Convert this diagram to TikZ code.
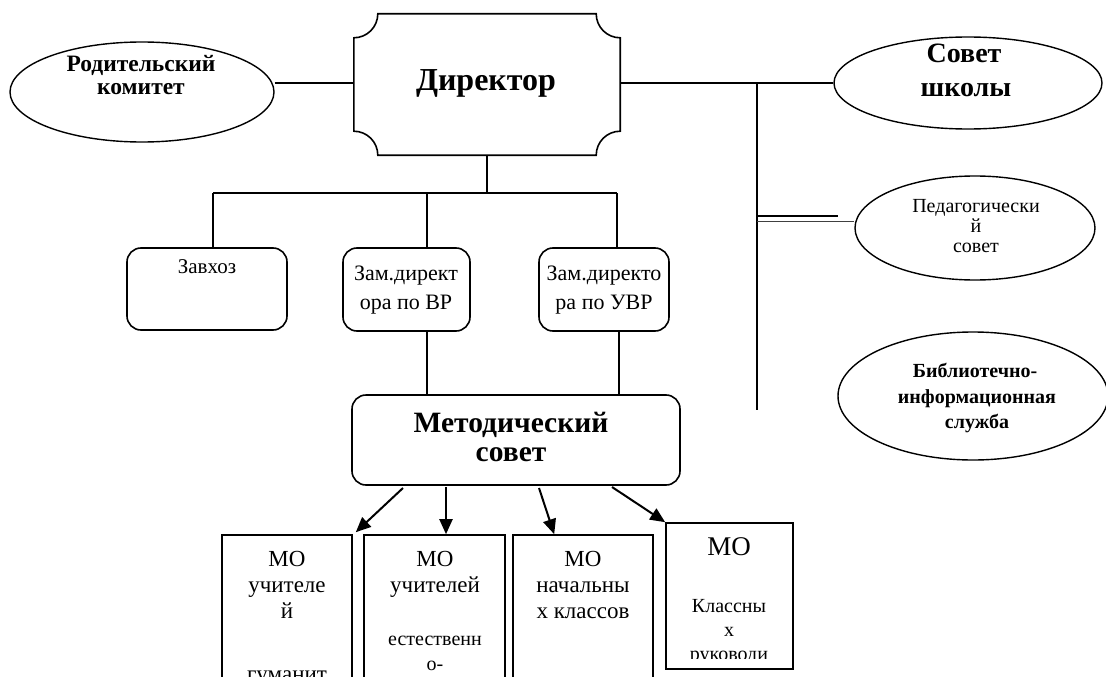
\documentclass[tikz,border=0pt]{standalone}
\usepackage{fontspec}
\setmainfont{Liberation Serif}
\usetikzlibrary{shapes.geometric,arrows.meta,calc}
\begin{document}
\begin{tikzpicture}[x=1pt,y=-1pt,
  ln/.style={line width=1.6pt},
  oval/.style={draw,ellipse,line width=1.4pt,inner sep=0pt},
  rbox/.style={draw,rounded corners=14pt,line width=1.6pt,inner sep=0pt},
  sbox/.style={draw,line width=1.6pt,inner sep=0pt},
  t/.style={anchor=base,inner sep=0pt},
  arr/.style={line width=2pt,-{Triangle[length=15pt,width=13pt]}},
  ]
\useasboundingbox (0,0) rectangle (1106,677);
\clip (0,0) rectangle (1106,677);

% ---------- Director ----------
\node[minimum width=266pt,minimum height=141pt,inner sep=0pt] (dir) at (487,84.5) {};
\draw[ln] ($(dir.north west)+(24,0)$) -- ($(dir.north east)+(-24,0)$)
  .. controls +(0,13.25) and +(-13.25,0) .. ($(dir.north east)+(0,24)$)
  -- ($(dir.south east)+(0,-24)$)
  .. controls +(-13.25,0) and +(0,-13.25) .. ($(dir.south east)+(-24,0)$)
  -- ($(dir.south west)+(24,0)$)
  .. controls +(0,-13.25) and +(13.25,0) .. ($(dir.south west)+(0,-24)$)
  -- ($(dir.north west)+(0,24)$)
  .. controls +(13.25,0) and +(0,13.25) .. ($(dir.north west)+(24,0)$) -- cycle;
\node[t,font=\fontsize{32}{32}\selectfont\bfseries] (dirt) at (486,90) {Директор};

% ---------- Ellipses ----------
\node[oval,minimum width=264pt,minimum height=100pt] (par) at (142,92) {};
\node[t,font=\fontsize{23.5}{23.5}\selectfont\bfseries] (par1) at (141,72) {Родительский};
\node[t,font=\fontsize{23.5}{23.5}\selectfont\bfseries] (par2) at (141,94) {комитет};

\node[oval,minimum width=268pt,minimum height=92pt] (sov) at (968,83) {};
\node[t,font=\fontsize{28}{28}\selectfont\bfseries] (sov1) at (964,63) {Совет};
\node[t,font=\fontsize{28}{28}\selectfont\bfseries] (sov2) at (966,96) {школы};

\node[oval,minimum width=240pt,minimum height=104pt] (ped) at (975,228) {};
\node[t,font=\fontsize{20}{20}\selectfont] (ped1) at (976,212) {Педагогически};
\node[t,font=\fontsize{20}{20}\selectfont] (ped2) at (976,232) {й};
\node[t,font=\fontsize{20}{20}\selectfont] (ped3) at (976,252) {совет};

\node[oval,minimum width=270pt,minimum height=128pt] (bib) at (973,396) {};
\node[t,font=\fontsize{20}{20}\selectfont\bfseries] (bib1) at (975,377) {Библиотечно-};
\node[t,font=\fontsize{20}{20}\selectfont\bfseries] (bib2) at (977,403) {информационная};
\node[t,font=\fontsize{20}{20}\selectfont\bfseries] (bib3) at (977,428) {служба};

% ---------- Second level ----------
\node[rbox,minimum width=160pt,minimum height=82pt] (zav) at (207,289) {};
\node[t,font=\fontsize{21}{21}\selectfont] (zavt) at (207,273) {Завхоз};

\node[rbox,minimum width=127pt,minimum height=83pt] (zvr) at (406.5,289.5) {};
\node[t,font=\fontsize{22}{22}\selectfont] (zvr1) at (406,280) {Зам.директ};
\node[t,font=\fontsize{22}{22}\selectfont] (zvr2) at (406,309) {ора по ВР};

\node[rbox,minimum width=130pt,minimum height=83pt] (zuv) at (604,289.5) {};
\node[t,font=\fontsize{22}{22}\selectfont] (zuv1) at (604,280) {Зам.директо};
\node[t,font=\fontsize{22}{22}\selectfont] (zuv2) at (604,309) {ра по УВР};

\node[rbox,minimum width=328pt,minimum height=90pt] (met) at (516,440) {};
\node[t,font=\fontsize{29.5}{29.5}\selectfont\bfseries] (met1) at (511,432) {Методический};
\node[t,font=\fontsize{29.5}{29.5}\selectfont\bfseries] (met2) at (511,461) {совет};

% ---------- Bottom boxes ----------
\node[sbox,minimum width=130pt,minimum height=170pt] (m1) at (287,620) {};
\node[t,font=\fontsize{23}{23}\selectfont] (m1a) at (287,566) {МО};
\node[t,font=\fontsize{23}{23}\selectfont] (m1b) at (287,592) {учителе};
\node[t,font=\fontsize{23}{23}\selectfont] (m1c) at (287,618) {й};
\node[t,font=\fontsize{23}{23}\selectfont] (m1d) at (287,681) {гуманит};

\node[sbox,minimum width=141pt,minimum height=170pt] (m2) at (434.5,620) {};
\node[t,font=\fontsize{23}{23}\selectfont] (m2a) at (435,566) {МО};
\node[t,font=\fontsize{23}{23}\selectfont] (m2b) at (435,592) {учителей};
\node[t,font=\fontsize{20}{20}\selectfont] (m2c) at (435,645) {естественн};
\node[t,font=\fontsize{20}{20}\selectfont] (m2d) at (435,670) {о-};

\node[sbox,minimum width=140pt,minimum height=170pt] (m3) at (583,620) {};
\node[t,font=\fontsize{23}{23}\selectfont] (m3a) at (583,566) {МО};
\node[t,font=\fontsize{23}{23}\selectfont] (m3b) at (583,592) {начальны};
\node[t,font=\fontsize{23}{23}\selectfont] (m3c) at (583,618) {х классов};

\node[sbox,minimum width=127pt,minimum height=146pt] (m4) at (729.5,596) {};
\node[t,font=\fontsize{27}{27}\selectfont] (m4a) at (729,555) {МО};
\node[t,font=\fontsize{20}{20}\selectfont] (m4b) at (729,612) {Классны};
\node[t,font=\fontsize{20}{20}\selectfont] (m4c) at (729,636) {х};
\begin{scope}
\clip (666,600) rectangle (793,658);
\node[t,font=\fontsize{20}{20}\selectfont] (m4d) at (729,660) {руководи};
\end{scope}

% ---------- Connectors ----------
\coordinate (hy) at (0,193);
\coordinate (ry) at (0,83);
\coordinate (vx) at (757,0);
\coordinate (vend) at (757,410);

\draw[ln] (par.east |- ry) -- (dir.west |- ry);
\draw[ln] (dir.east |- ry) -- (sov.west);
\draw[ln] (vx |- ry) -- (vend);
\draw[line width=2pt] (vx |- 0,216) -- (838,216) coordinate (pedstub);
\draw[line width=1pt,black!75] (vx |- 0,221.5) -- (ped.west |- 0,221.5);

\coordinate (b1) at (213,193);
\coordinate (b2) at (427,193);
\coordinate (b3) at (617,193);
\draw[ln] (dir.south) -- (dir.south |- hy);
\draw[ln] (b1) -- (b3);
\draw[ln] (b1) -- (b1 |- zav.north);
\draw[ln] (b2) -- (b2 |- zvr.north);
\draw[ln] (b3) -- (b3 |- zuv.north);

\coordinate (c1) at (427,0);
\coordinate (c2) at (619,0);
\draw[ln] (c1 |- zvr.south) -- (c1 |- met.north);
\draw[ln] (c2 |- zuv.south) -- (c2 |- met.north);

\coordinate (a1) at (403,488);
\coordinate (a2) at (446,487);
\coordinate (a3) at (539,488);
\coordinate (a4) at (612,487);
\draw[arr] (a1) -- ($(m1.north east)+(3,-2)$);
\draw[arr] (a2) -- (a2 |- m2.north);
\draw[arr] (a3) -- ($(m3.north west)+(42,0)$);
\draw[arr] (a4) -- (m4.north west);
\end{tikzpicture}
\end{document}
